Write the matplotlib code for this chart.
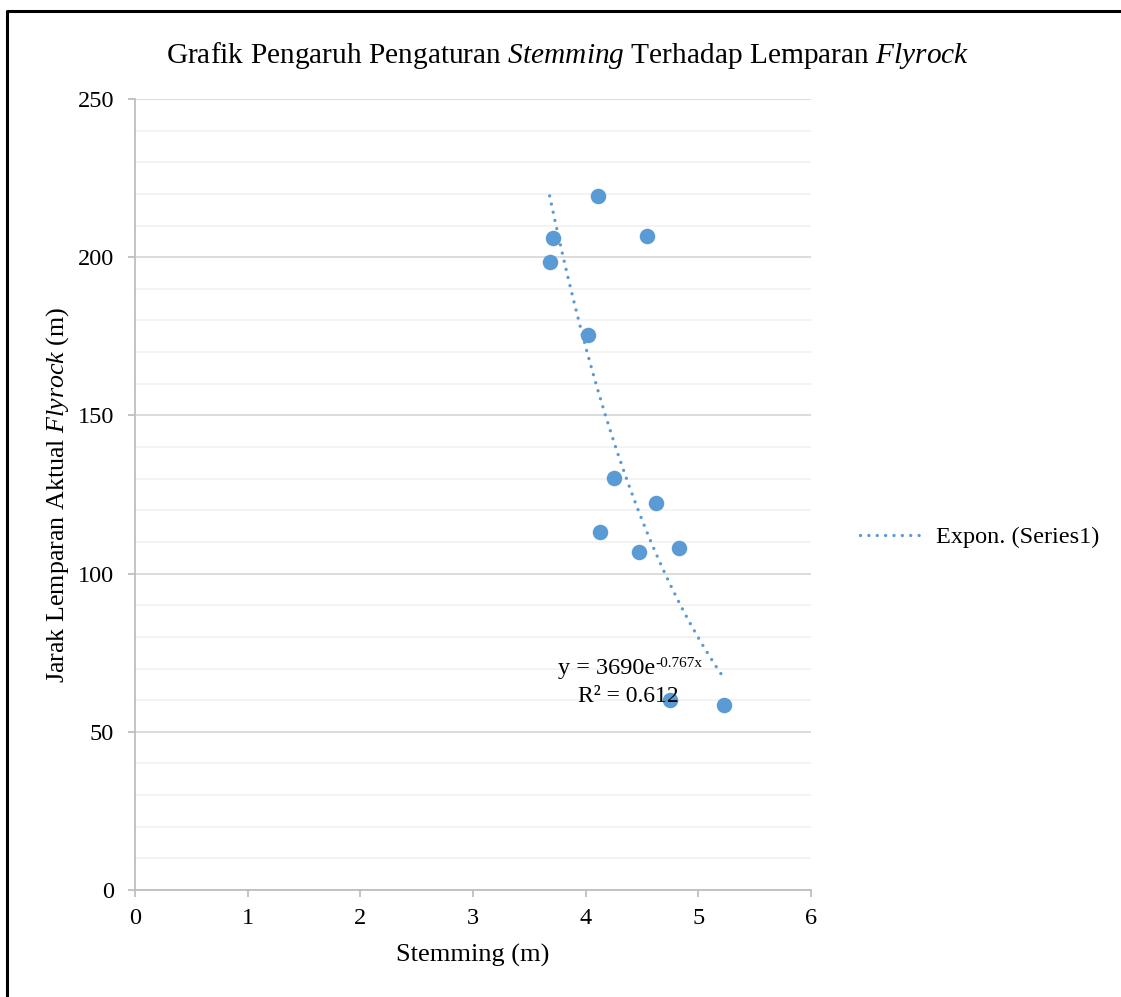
import matplotlib
matplotlib.use('Agg')
import matplotlib.pyplot as plt
import numpy as np
from matplotlib.lines import Line2D

plt.rcParams['font.family'] = ['Liberation Serif', 'DejaVu Serif']
plt.rcParams['mathtext.fontset'] = 'custom'
plt.rcParams['mathtext.rm'] = 'Liberation Serif'
plt.rcParams['mathtext.it'] = 'Liberation Serif:italic'

# data
stemming = [4.11, 3.71, 4.54, 3.68, 4.02, 4.25, 4.62, 4.13, 4.47, 4.83, 4.75, 5.23]
flyrock = [219.3, 206.1, 206.7, 198.5, 175.4, 130.2, 122.3, 113.2, 106.8, 108.1, 60.1, 58.5]
trend_a = 3690
trend_b = -0.767
r2 = 0.612

blue = '#5B9BD5'
dots = (0, (0.01, 2.5))

fig = plt.figure(figsize=(11.21, 9.97), dpi=100)
ax = fig.add_axes([0.1204, 0.1073, 0.6031, 0.7934])

ax.scatter(stemming, flyrock, s=125, color=blue, zorder=3, linewidths=0)

xt = np.linspace(min(stemming), max(stemming), 200)
ax.plot(xt, trend_a * np.exp(trend_b * xt), color=blue, lw=2.4,
        linestyle=dots, dash_capstyle='round', zorder=2)

ax.set_xlim(0, 6)
ax.set_ylim(0, 250)
ax.set_xticks(range(0, 7))
ax.set_yticks(range(0, 251, 50))
ax.set_yticks(range(0, 251, 10), minor=True)
ax.grid(axis='y', which='major', color='#D9D9D9', lw=1.3)
ax.grid(axis='y', which='minor', color='#F2F2F2', lw=1.3)
ax.set_axisbelow(True)
for s in ['top', 'right']:
    ax.spines[s].set_visible(False)
for s in ['left', 'bottom']:
    ax.spines[s].set_color('#BFBFBF')
    ax.spines[s].set_linewidth(1.3)
ax.tick_params(axis='both', which='major', colors='#BFBFBF', labelcolor='black',
               labelsize=17.5, length=5, width=1.3)
ax.tick_params(axis='y', which='minor', length=0)
ax.tick_params(axis='x', pad=8)
ax.tick_params(axis='y', pad=10)

ax.set_xlabel('Stemming (m)', fontsize=19, labelpad=11)
ax.set_ylabel(r'Jarak Lemparan Aktual $\mathit{Flyrock}$ (m)', fontsize=18.7, labelpad=5)

fig.text(0.506, 0.944, r'Grafik Pengaruh Pengaturan $\mathit{Stemming}$ Terhadap Lemparan $\mathit{Flyrock}$',
         fontsize=21.2, ha='center', va='center')

# trendline label, superscript drawn as its own text so the sign stays a hyphen
ax.text(4.615, 68.3, 'y = 3690e', fontsize=17.5, ha='right', va='baseline')
ax.text(4.62, 70.6, '%g' % trend_b + 'x', fontsize=11, ha='left', va='baseline')
ax.text(4.38, 59.4, 'R² = %.3f' % r2, fontsize=17, ha='center', va='baseline')

handle = Line2D([], [], color=blue, lw=2.4, linestyle=dots, dash_capstyle='round')
fig.legend([handle], ['Expon. (Series1)'], loc='center left', bbox_to_anchor=(0.767, 0.461),
           frameon=False, fontsize=17.5, handlelength=2.55, handletextpad=0.6, borderpad=0,
           borderaxespad=0)

# outer frame like the Excel chart border
fig.add_artist(Line2D([7 / 1121, 7 / 1121, 1.0], [0.0, 1 - 11 / 997, 1 - 11 / 997],
                      transform=fig.transFigure, color='black', lw=2.2))

fig.savefig('out.png', dpi=100, facecolor='white')
